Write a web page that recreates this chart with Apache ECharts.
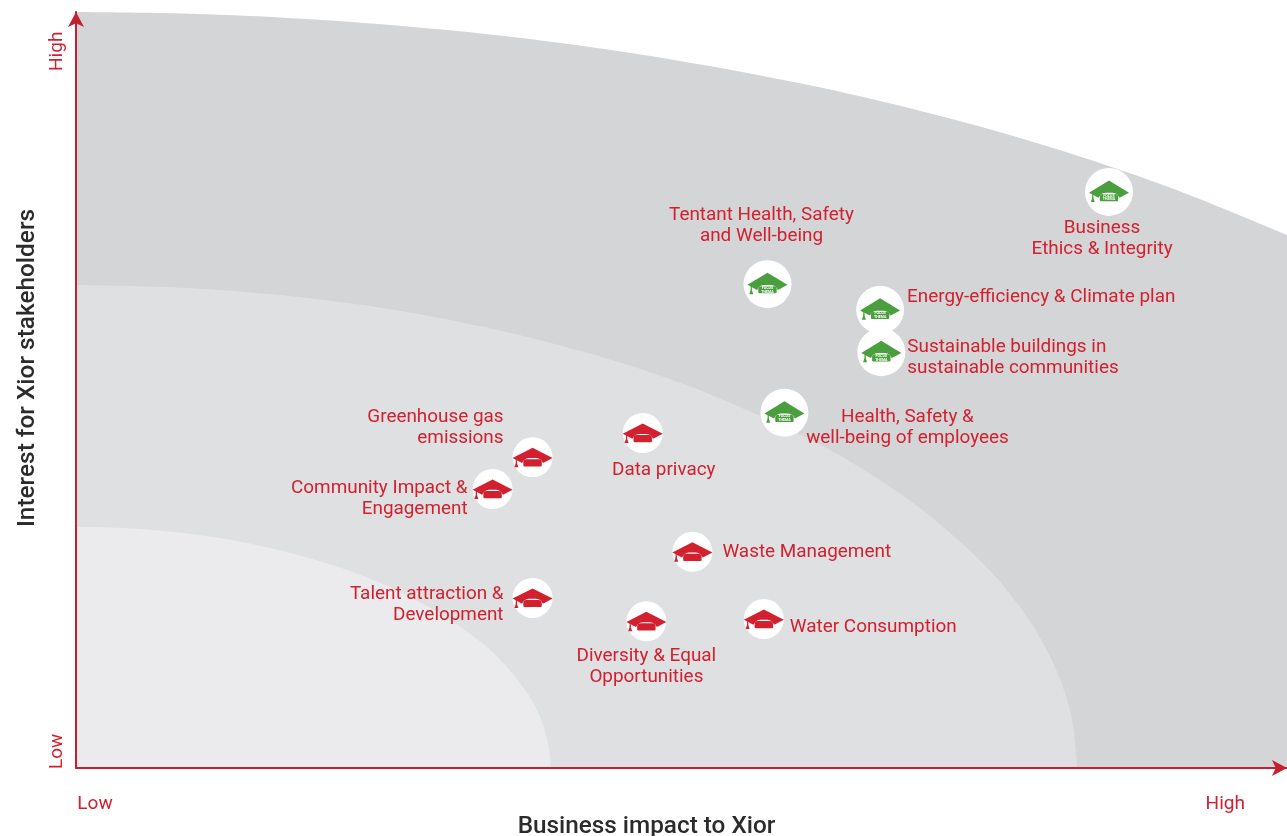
<!DOCTYPE html>
<html><head><meta charset="utf-8">
<style>html,body{margin:0;padding:0;background:#fff}#c{width:1287px;height:836px}</style>
<script src="https://cdn.jsdelivr.net/npm/echarts@6/dist/echarts.min.js"></script>
</head><body><div id="c"></div>
<script>
// Zone boundaries [business impact, stakeholder interest]
var outerZone = [[0,100],[10,99.75],[20,98.99],[30,97.71],[40,95.89],[50,93.5],[60,90.5],[70,86.81],[80,82.35],[90,76.98],[100,70.5]];
var middleZone = [[0,63.9],[10,63.43],[20,62],[30,59.54],[40,55.9],[50,50.9],[60,43.95],[65,39.5],[70,34],[75,26.9],[78,21.2],[80,16.1],[81.5,10.7],[82.3,5.9],[82.66,0]];
var innerZone = [[0,31.9],[5,31.64],[10,30.84],[15,29.47],[20,27.4],[25,24.57],[30,20.5],[33,17.2],[35,14.4],[37,10.5],[38.2,7.2],[39,3.2],[39.2,0]];

// Topics: [business impact, stakeholder interest]
var focusTopics = ['Business\nEthics & Integrity','Tentant Health, Safety\nand Well-being','Energy-efficiency & Climate plan','Sustainable buildings in\nsustainable communities','Health, Safety &\nwell-being of employees'];
var focusValues = [[85.3,76.2],[57.1,64],[66.4,60.6],[66.5,55],[58.5,47]];
var otherTopics = ['Data privacy','Greenhouse gas\nemissions','Community Impact &\nEngagement','Waste Management','Talent attraction &\nDevelopment','Diversity & Equal\nOpportunities','Water Consumption'];
var otherValues = [[46.8,44.3],[37.7,41.1],[34.4,36.9],[50.9,28.6],[37.7,22.5],[47.1,19.4],[56.8,19.7]];

// Axis tick labels
var xTickValues = [1.57,94.9];
var xTickLabels = ['Low','High'];
var yTickValues = [2.2,94.8];
var yTickLabels = ['Low','High'];

// Label placement relative to each marker: [dx, dy, align]
var focusPlace = [[-7,47,'center'],[-6,-58,'center'],[27,-13,'left'],[26,6,'left'],[123,15,'center']];
var otherPlace = [[21,37,'center'],[-29,-30,'right'],[-25,10,'right'],[30,0,'left'],[-29,7,'right'],[0,45,'center'],[26,8,'left']];

var RED = '#d3202f', AXIS = '#c5202f';

function marker(names, place, color, radius, top, withText){
  return function(params, api){
    var i = params.dataIndex;
    var p = api.coord([api.value(0), api.value(1)]);
    var cx = p[0], cy = p[1];
    var kids = [
      {type:'circle', shape:{cx:cx,cy:cy,r:radius}, style:{fill:'#fff'}},
      {type:'polygon', shape:{points:[[cx,cy+top],[cx+20,cy+0.7],[cx+11,cy+5.5],[cx-11,cy+5.5],[cx-20,cy+0.7]]}, style:{fill:color}},
      {type:'rect', shape:{x:cx-10.5,y:cy+0.8,width:21,height:8.7,r:[7,7,1,1]}, style:{fill:'#fff'}},
      {type:'rect', shape:{x:cx-9.2,y:cy+2,width:18.4,height:7.2,r:[3,3,1,1]}, style:{fill:color}},
      {type:'rect', shape:{x:cx-16.8,y:cy+1,width:1.2,height:5}, style:{fill:color}},
      {type:'polygon', shape:{points:[[cx-16.2,cy+4],[cx-14.2,cy+10],[cx-18.2,cy+10]]}, style:{fill:color}},
      {type:'text', style:{x:cx+place[i][0], y:cy+place[i][1], text:names[i], fill:RED, align:place[i][2], verticalAlign:'middle', font:'400 18.9px Roboto', lineHeight:21}}
    ];
    if(withText){
      kids.push({type:'text', style:{x:cx,y:cy+5.6,text:'FOCUS\nTHEMA',fill:'#fff',align:'center',verticalAlign:'middle',font:'700 3.6px Roboto',lineHeight:3.8}});
    }
    return {type:'group', children:kids};
  };
}
function zone(data, color, z){
  return {type:'line', data:data, smooth:0.35, symbol:'none', silent:true, z:z,
    lineStyle:{width:0}, areaStyle:{color:color, opacity:1, origin:'start'}};
}
var chart = echarts.init(document.getElementById('c'), null, {renderer:'canvas'});
chart.setOption({
  animation:false,
  backgroundColor:'#fff',
  grid:{left:76,right:0,top:12,bottom:68,outerBoundsMode:'none'},
  xAxis:{type:'value',min:0,max:100,splitLine:{show:false},z:10,
    axisLine:{show:true,onZero:false,symbol:['none','arrow'],symbolSize:[12,15],lineStyle:{color:AXIS,width:2}},
    axisTick:{show:false},
    axisLabel:{customValues:xTickValues,margin:27,color:RED,fontFamily:'Roboto',fontSize:19,
      formatter:function(v){return xTickLabels[xTickValues.indexOf(v)];}},
    name:'Business impact to Xior',nameLocation:'middle',nameGap:47,nameMoveOverlap:false,
    nameTextStyle:{color:'#2b2b2b',fontFamily:'Roboto',fontWeight:500,fontSize:24.3,padding:[0,70,0,0]}},
  yAxis:{type:'value',min:0,max:100,splitLine:{show:false},z:10,
    axisLine:{show:true,onZero:false,symbol:['none','arrow'],symbolSize:[12,15],lineStyle:{color:AXIS,width:2}},
    axisTick:{show:false},
    axisLabel:{customValues:yTickValues,rotate:90,margin:9,color:RED,fontFamily:'Roboto',fontSize:19,
      formatter:function(v){return yTickLabels[yTickValues.indexOf(v)];}},
    name:'Interest for Xior stakeholders',nameLocation:'middle',nameGap:35,
    nameTextStyle:{color:'#2b2b2b',fontFamily:'Roboto',fontWeight:500,fontSize:24.4,padding:[0,0,0,44]}},
  series:[
    zone(outerZone,'#d4d5d7',1),
    zone(middleZone,'#dfe0e2',2),
    zone(innerZone,'#ebebed',3),
    {type:'custom',z:5,coordinateSystem:'cartesian2d',clip:false,data:otherValues,encode:{x:0,y:1},
      renderItem:marker(otherTopics,otherPlace,'#d3202f',20,-9.5,false)},
    {type:'custom',z:6,coordinateSystem:'cartesian2d',clip:false,data:focusValues,encode:{x:0,y:1},
      renderItem:marker(focusTopics,focusPlace,'#4a9e3d',24,-11.5,true)}
  ]
});
</script></body></html>
